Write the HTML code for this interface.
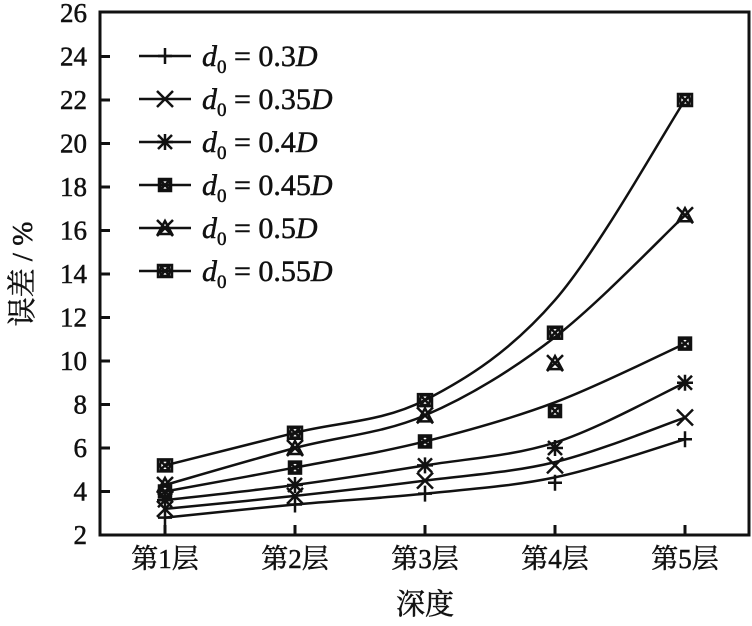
<!DOCTYPE html>
<html><head><meta charset="utf-8"><style>
body{margin:0;background:#fff}
svg text{font-family:"Liberation Serif","Noto Serif CJK SC",serif;fill:#111;stroke:#111;stroke-width:0.5}
</style></head><body>
<svg id="s" width="752" height="621" xmlns="http://www.w3.org/2000/svg"></svg>
<script>
const s=document.getElementById('s');
let h='';
const L=100,R=749,T=12,B=535;
const Y=v=>B-(v-2)*21.75, X=i=>165+130*i;
h+=`<rect x="${L}" y="${T}" width="${R-L}" height="${B-T}" fill="none" stroke="#111" stroke-width="3"/>`;
for(let v=2;v<=26;v+=2){const y=Y(v);if(v>2&&v<26)h+=`<line x1="${L}" y1="${y}" x2="${L+10}" y2="${y}" stroke="#111" stroke-width="3"/>`;
h+=`<text x="${L-13}" y="${y+9}" font-size="27" text-anchor="end">${v}</text>`;}
for(let i=0;i<5;i++){h+=`<line x1="${X(i)}" y1="${B}" x2="${X(i)}" y2="${B-10}" stroke="#111" stroke-width="3"/>`;
h+=`<text x="${X(i)}" y="${B+33}" font-size="27" text-anchor="middle">第${i+1}层</text>`;}
h+=`<text x="425" y="614" font-size="29" text-anchor="middle">深度</text>`;
h+=`<text transform="translate(32,274) rotate(-90)" font-size="29" text-anchor="middle">误差 / %</text>`;
const data=[[2.8,3.4,3.9,4.4,6.4],[3.2,3.8,4.5,5.2,7.4],[3.6,4.3,5.2,6.0,9.0],[4.0,5.1,6.3,7.7,10.8],[4.3,6.0,7.5,9.9,16.7],[5.2,6.7,8.2,11.3,22.0]];
const line4=[4.65,5.35,6.25,8.1,11.1,12.8];
const labs=['0.3','0.35','0.4','0.45','0.5','0.55'];
function mk(t,x,y){let o='';
 const st='stroke="#111" stroke-width="2.5" fill="none"';
 if(t==0)o=`<path d="M${x-7} ${y}H${x+7}M${x} ${y-8}V${y+8}" ${st}/>`;
 else if(t==1)o=`<path d="M${x-8} ${y-8}L${x+8} ${y+8}M${x-8} ${y+8}L${x+8} ${y-8}" ${st}/>`;
 else if(t==2)o=`<path d="M${x-7} ${y-7}L${x+7} ${y+7}M${x-7} ${y+7}L${x+7} ${y-7}M${x-8} ${y}H${x+8}M${x} ${y-8}V${y+8}" ${st}/>`;
 else if(t==3)o=`<rect x="${x-6}" y="${y-6}" width="12" height="12" ${st}/><circle cx="${x}" cy="${y}" r="5" ${st}/><path d="M${x-5} ${y-5}L${x+5} ${y+5}M${x-5} ${y+5}L${x+5} ${y-5}" ${st}/>`;
 else if(t==4)o=`<path d="M${x-8} ${y-8}L${x+8} ${y+8}M${x-8} ${y+8}L${x+8} ${y-8}M${x} ${y-7}L${x-7} ${y+6}H${x+7}Z" ${st}/>`;
 else o=`<rect x="${x-7}" y="${y-6}" width="14" height="12" ${st}/><circle cx="${x}" cy="${y}" r="5" ${st}/><path d="M${x-5} ${y-5}L${x+5} ${y+5}M${x-5} ${y+5}L${x+5} ${y-5}" ${st}/>`;
 return o;}
data.forEach((d,k)=>{
 const p=d.map((v,i)=>[X(i),Y(i==3?line4[k]:v)]);
 let path=`M${p[0][0]} ${p[0][1]}`;
 for(let i=0;i<4;i++){const p0=p[Math.max(i-1,0)],p1=p[i],p2=p[i+1],p3=p[Math.min(i+2,4)];
  const c1=[p1[0]+(p2[0]-p0[0])/6,p1[1]+(p2[1]-p0[1])/6],c2=[p2[0]-(p3[0]-p1[0])/6,p2[1]-(p3[1]-p1[1])/6];
  path+=`C${c1[0]} ${c1[1]} ${c2[0]} ${c2[1]} ${p2[0]} ${p2[1]}`;}
 h+=`<path d="${path}" fill="none" stroke="#111" stroke-width="2.5"/>`;
 d.forEach((v,i)=>h+=mk(k,X(i),Y(v)));
 const ly=56+k*43;
 h+=`<line x1="139" y1="${ly}" x2="191" y2="${ly}" stroke="#111" stroke-width="2.5"/>`+mk(k,165,ly);
 h+=`<text x="202" y="${ly+10}" font-size="30"><tspan font-style="italic">d</tspan><tspan font-size="19" dy="7">0</tspan><tspan dy="-7"> = ${labs[k]}</tspan><tspan font-style="italic">D</tspan></text>`;
});
s.innerHTML=h;
</script>
</body></html>
